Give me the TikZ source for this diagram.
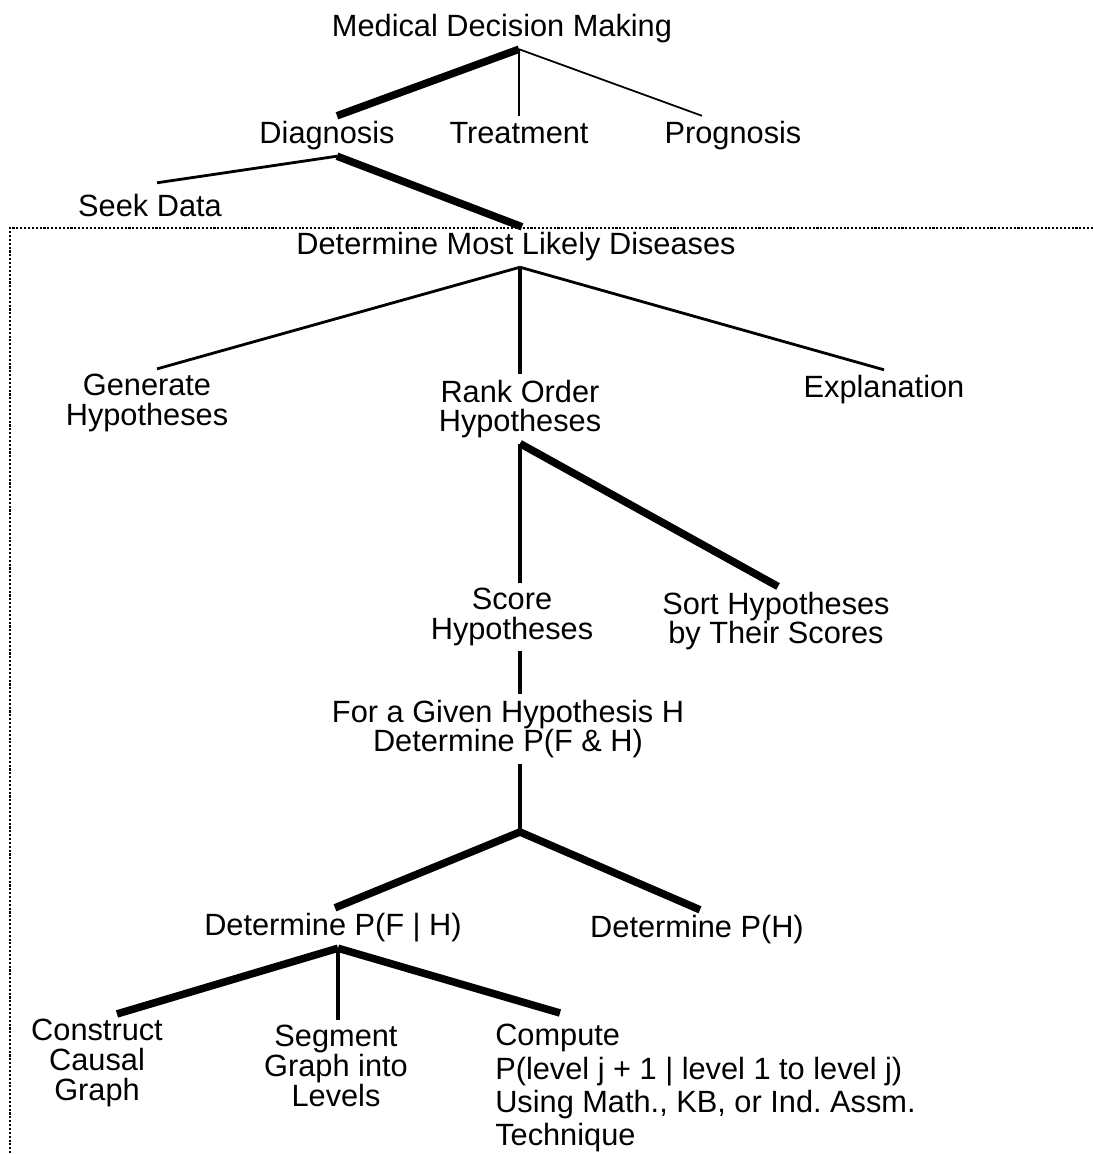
\documentclass[tikz,border=0pt]{standalone}
\usepackage{fontspec}
\setmainfont{Liberation Sans}
\usetikzlibrary{calc}
\frenchspacing

\tikzset{
	leaf/.style={inner sep=1pt, outer sep=2pt, align=center, font=\fontsize{17.5}{17}\selectfont},
	oneline/.style={leaf, text height=13pt, text depth=4pt},
	heavyline/.style={line width=4.3pt},
	midline/.style={line width=2.8pt},
	thinline/.style={line width=1.6pt},
	hairline/.style={line width=1pt},
	frameline/.style={line width=0.6pt, dash pattern=on 1.2pt off 1pt}
}

\begin{document}
\begin{tikzpicture}[x=0.02cm, y=-0.02cm]
		\useasboundingbox (0,0) rectangle (1093,1154);
		
		%Blocks
		\node (MedicalDecision) at (502,29) [oneline]{Medical Decision Making};
		\node (Diagnosis) at (327,136) [oneline]{Diagnosis};
		\node (Treatment) at (519,136) [oneline]{Treatment};
		\node (Prognosis) at (733,136) [oneline]{Prognosis};
		\node (SeekData) at (150,209) [oneline]{Seek Data};
		\node (MostLikely) at (516,247) [oneline]{Determine Most Likely Diseases};
		\node (GenerateHyp) at (147,403) [leaf]{Generate\\Hypotheses};
		\node (RankOrder) at (520,409) [leaf]{Rank Order\\Hypotheses};
		\node (Explanation) at (884,390) [oneline]{Explanation};
		\node (ScoreHyp) at (512,617) [leaf]{Score\\Hypotheses};
		\node (SortHyp) at (776,621) [leaf]{Sort Hypotheses\\by Their Scores};
		\node (GivenHyp) at (508,729) [leaf]{For a Given Hypothesis H\\Determine P(F \& H)};
		\node (PFgivenH) at (333,928) [oneline]{Determine P(F | H)};
		\node (PH) at (697,930) [oneline]{Determine P(H)};
		\node (CausalGraph) at (97,1063) [leaf]{Construct\\Causal\\Graph};
		\node (SegmentGraph) at (336,1066) [leaf]{Segment\\Graph into\\Levels};
		\node (ComputeLevels) at (490,1019) [leaf, anchor=north west, align=left,
		font=\fontsize{17.5}{19}\selectfont]{Compute\\P(level j + 1 | level 1 to level j)\\Using Math., KB, or Ind. Assm.\\Technique};
		\coordinate (Split) at (520,832);
		
		%Links
		\draw[heavyline] ($(MedicalDecision.south)+(17,0)$) -- ($(Diagnosis.north)+(10,0)$);
		\draw[hairline] ($(MedicalDecision.south)+(17,0)$) -- (Treatment.north);
		\draw[hairline] ($(MedicalDecision.south)+(17,0)$) -- ($(Prognosis.north)+(-31,0)$);
		\draw[thinline] ($(Diagnosis.south)+(10,0)$) -- ($(SeekData.north)+(7,-6)$);
		\draw[heavyline] ($(Diagnosis.south)+(10,0)$) -- ($(MostLikely.north)+(6,0)$);
		\draw[thinline] ($(MostLikely.south)+(4,0)$) -- ($(GenerateHyp.north)+(10,0)$);
		\draw[midline] ($(MostLikely.south)+(4,0)$) -- (RankOrder.north);
		\draw[thinline] ($(MostLikely.south)+(4,0)$) -- (Explanation.north);
		\draw[midline] (RankOrder.south) -- ($(ScoreHyp.north)+(8,0)$);
		\draw[heavyline] (RankOrder.south) -- ($(SortHyp.north)+(2,0)$);
		\draw[midline] ($(ScoreHyp.south)+(8,0)$) -- ($(GivenHyp.north)+(12,0)$);
		\draw[midline] ($(GivenHyp.south)+(12,0)$) -- (Split);
		\draw[heavyline] (Split) -- ($(PFgivenH.north)+(2,0)$);
		\draw[heavyline] (Split) -- ($(PH.north)+(3,0)$);
		\draw[heavyline] ($(PFgivenH.south)+(5,0)$) -- ($(CausalGraph.north)+(20,0)$);
		\draw[midline] ($(PFgivenH.south)+(5,0)$) -- ($(SegmentGraph.north)+(2,0)$);
		\draw[heavyline] ($(PFgivenH.south)+(5,0)$) -- ($(ComputeLevels.north west)+(70,-6)$);
		
		%Diagnostic reasoning group
		\draw[frameline] (1093,228) -- (10,228) -- (10,1154);
		
\end{tikzpicture}
\end{document}
